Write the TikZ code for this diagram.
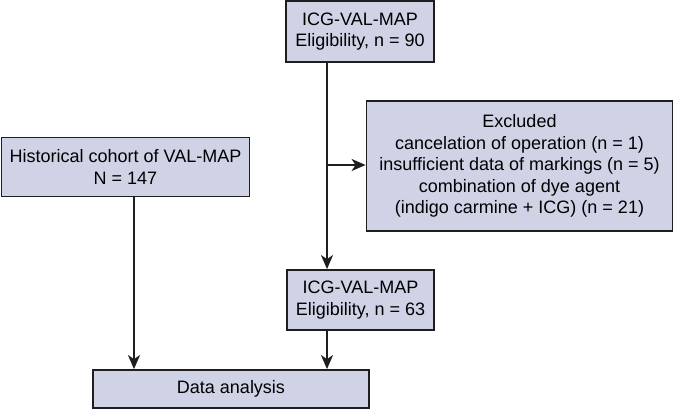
\documentclass[tikz,border=0pt]{standalone}
\usepackage{fontspec}
\setmainfont{Liberation Sans}
\usetikzlibrary{arrows.meta}
\definecolor{boxfill}{RGB}{208,211,230}
\definecolor{edge}{RGB}{30,30,30}
\begin{document}
\begin{tikzpicture}[x=1pt,y=-1pt,
  box/.style={draw=edge,line width=1.8pt,fill=boxfill,rectangle,align=center,inner sep=0pt,font=\fontsize{18}{21.5}\selectfont},
  arr/.style={draw=edge,line width=1.8pt,-{Stealth[length=14pt,width=12pt,inset=4pt]}}]
\useasboundingbox (0,0) rectangle (674,410);
\node[box,minimum width=148pt,minimum height=61pt] (b1) at (360,31.5) {ICG-VAL-MAP\\Eligibility, n = 90};
\node[box,minimum width=306pt,minimum height=130pt] (ex) at (519.5,166) {Excluded\\cancelation of operation (n = 1)\\insufficient data of markings (n = 5)\\combination of dye agent\\(indigo carmine + ICG) (n = 21)};
\node[box,minimum width=248pt,minimum height=59pt] (hc) at (125.5,167) {Historical cohort of VAL-MAP\\N = 147};
\node[box,minimum width=147pt,minimum height=60pt] (b4) at (360.5,300) {ICG-VAL-MAP\\Eligibility, n = 63};
\node[box,minimum width=276pt,minimum height=38pt] (da) at (231,389) {Data analysis};
\coordinate (j) at (327,165);
\coordinate (h) at (134,0);
\draw[arr] (b1.south -| j) -- (b4.north -| j);
\draw[arr] (j) -- (ex.west |- j);
\draw[arr] (hc.south -| h) -- (da.north -| h);
\draw[arr] (b4.south -| j) -- (da.north -| j);
\end{tikzpicture}
\end{document}
